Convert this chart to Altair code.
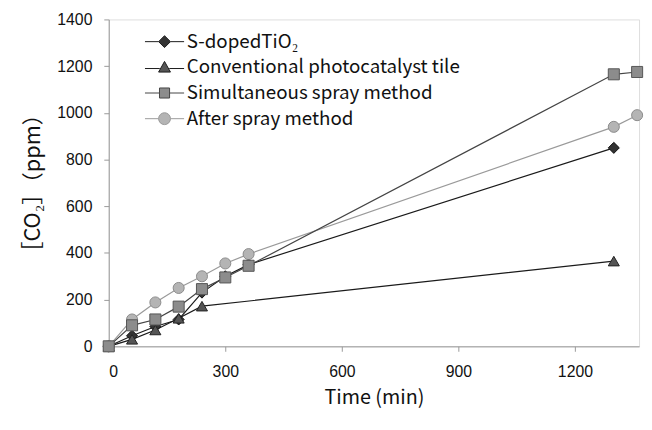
import altair as alt
import pandas as pd

series_names = ["S-dopedTiO₂", "Conventional photocatalyst tile",
                "Simultaneous spray method", "After spray method"]

s_doped_time = [0, 60, 120, 180, 240, 300, 360, 1300]
s_doped_ppm = [0, 45, 85, 115, 230, 300, 350, 850]

conv_time = [0, 60, 120, 180, 240, 1300]
conv_ppm = [0, 30, 70, 120, 172, 365]

simul_time = [0, 60, 120, 180, 240, 300, 360, 1300, 1360]
simul_ppm = [0, 90, 115, 170, 245, 295, 345, 1165, 1175]

after_time = [0, 60, 120, 180, 240, 300, 360, 1300, 1360]
after_ppm = [0, 115, 188, 250, 300, 355, 395, 940, 990]

x_ticks = [0, 300, 600, 900, 1200]
y_ticks = [0, 200, 400, 600, 800, 1000, 1200, 1400]

# drawing order: squares end up on top, as in the reference
draw_order = [0, 1, 3, 2]
all_times = [s_doped_time, conv_time, simul_time, after_time]
all_ppm = [s_doped_ppm, conv_ppm, simul_ppm, after_ppm]
rows = []
for i in draw_order:
    for t, v in zip(all_times[i], all_ppm[i]):
        rows.append({"series": series_names[i], "time": t, "ppm": v})
df = pd.DataFrame(rows)

line_colors = ["#1a1a1a", "#1a1a1a", "#444444", "#9a9a9a"]
fill_colors = ["#333333", "#555555", "#8c8c8c", "#b4b4b4"]
stroke_colors = ["#111111", "#222222", "#555555", "#8a8a8a"]
shapes = ["diamond", "triangle-up", "square", "circle"]
legend_paths = [
    "M-3.3,0H-1M1,0H3.3M0,-1L1,0L0,1L-1,0Z",
    "M-3.3,0.2H-0.8M0.8,0.2H3.3M0,-1L1,0.8L-1,0.8Z",
    "M-3.3,0H-0.85M0.85,0H3.3M-0.85,-0.85H0.85V0.85H-0.85Z",
    "M-3.3,0H-1M1,0H3.3M-1,0A1,1 0 1,0 1,0A1,1 0 1,0 -1,0Z",
]

x_enc = alt.X("time:Q", scale=alt.Scale(domain=[0, 1365], nice=False, zero=True),
              axis=alt.Axis(title="Time (min)", values=x_ticks, grid=False, format="d",
                            labelFont="Liberation Sans", labelFontSize=16,
                            labelColor="#111111", tickColor="#999999",
                            domainColor="#999999", tickSize=5, labelPadding=13,
                            titleFont="Noto Sans CJK JP", titleFontSize=20,
                            titleFontWeight="normal", titleColor="#111111",
                            titlePadding=8))
y_enc = alt.Y("ppm:Q", scale=alt.Scale(domain=[0, 1400], nice=False),
              axis=alt.Axis(title="［CO₂］（ppm）", values=y_ticks, grid=False, format="d",
                            labelFont="Liberation Sans", labelFontSize=16,
                            labelColor="#111111", tickColor="#999999",
                            domainColor="#999999", tickSize=5, labelPadding=12,
                            titleFont="Noto Sans CJK JP", titleFontSize=22,
                            titleFontWeight="normal", titleColor="#111111",
                            titlePadding=13))

base = alt.Chart(df)

lines = base.mark_line(strokeWidth=1.2).encode(
    x=x_enc, y=y_enc,
    color=alt.Color("series:N", scale=alt.Scale(domain=series_names, range=line_colors), legend=None),
    order="time:Q",
)

points = base.mark_point(filled=True, size=125, strokeWidth=1, opacity=1).encode(
    x=x_enc, y=y_enc,
    shape=alt.Shape("series:N", scale=alt.Scale(domain=series_names, range=shapes), legend=None),
    fill=alt.Fill("series:N", scale=alt.Scale(domain=series_names, range=fill_colors), legend=None),
    stroke=alt.Stroke("series:N", scale=alt.Scale(domain=series_names, range=stroke_colors), legend=None),
)

legend_spec = alt.Legend(
    title=None, orient="none", legendX=47, legendY=13,
    labelFont="Noto Sans CJK JP", labelFontSize=19, labelColor="#111111",
    symbolSize=144, symbolStrokeWidth=1, labelOffset=13, rowPadding=6,
    padding=0, labelLimit=500,
)

legend_layer = base.transform_filter("datum.time < 0").mark_point(
    filled=True, strokeWidth=1, opacity=1).encode(
    x=x_enc, y=y_enc,
    shape=alt.Shape("series:N", scale=alt.Scale(domain=series_names, range=legend_paths), legend=legend_spec),
    fill=alt.Fill("series:N", scale=alt.Scale(domain=series_names, range=fill_colors), legend=legend_spec),
    stroke=alt.Stroke("series:N", scale=alt.Scale(domain=series_names, range=line_colors), legend=legend_spec),
)

chart = alt.layer(lines, points, legend_layer).resolve_scale(
    shape="independent", fill="independent", stroke="independent"
).properties(
    width=537, height=331,
    autosize=alt.AutoSizeParams(type="none"),
    padding={"left": 102, "top": 9, "right": 5, "bottom": 70},
).configure_view(stroke="#999999", strokeWidth=1).configure(background="white")

chart.save("out.html", embed_options={"renderer": "svg", "actions": False})
